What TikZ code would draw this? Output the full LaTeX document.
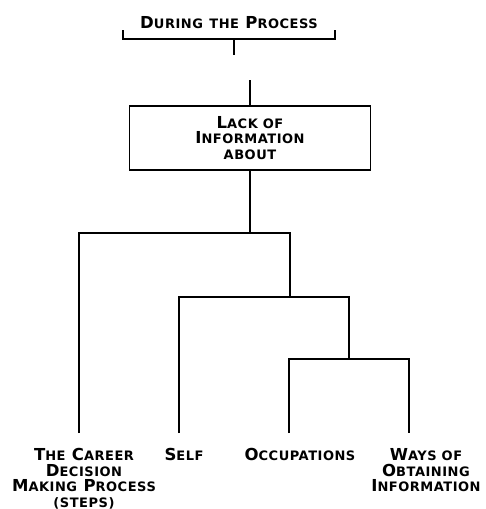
\documentclass[tikz,border=0pt]{standalone}
\usepackage{fontspec}
\setmainfont{DejaVu Sans}[LetterSpace=4]
\newcommand{\smallCaps}[1]{{\fontsize{13}{15.5}\selectfont #1}}
\newcommand{\bigCaps}{\fontsize{16.5}{15.5}\selectfont\bfseries}

\begin{document}
\begin{tikzpicture}[x=1pt, y=-1pt, line width=1.1pt,
   label/.style={inner sep=0pt, align=center, font=\bigCaps},
   infobox/.style={draw, rectangle, inner sep=0pt, minimum width=241pt,
      minimum height=64pt, align=center, font=\bigCaps}]
   \useasboundingbox (0,0) rectangle (485,509);

   % title with its bracket
   \node (title) [label] at (229,23) {D\smallCaps{URING} \smallCaps{THE} P\smallCaps{ROCESS}};
   \coordinate (brLeft) at (123,30);
   \coordinate (brRight) at (335,30);
   \coordinate (brStem) at (234,55);
   \draw (brLeft) |- (brRight|-0,39) -- (brRight);
   \draw (brStem|-0,39) -- (brStem);

   % the box
   \node (lack) [infobox] at (250,138) {L\smallCaps{ACK OF}\\ I\smallCaps{NFORMATION}\\ \smallCaps{ABOUT}};
   \coordinate (lackIn) at (250,80);
   \draw (lackIn) -- (lack.north);

   % junctions
   \coordinate (jOne) at (250,233);
   \coordinate (jTwo) at (290,297);
   \coordinate (jThree) at (349,359);

   % leaves
   \node (career) [label, anchor=north] at (84,448) {T\smallCaps{HE} C\smallCaps{AREER}\\ D\smallCaps{ECISION}\\ M\smallCaps{AKING} P\smallCaps{ROCESS}\\ \smallCaps{(STEPS)}};
   \node (self) [label, anchor=north] at (184,448) {S\smallCaps{ELF}};
   \node (occup) [label, anchor=north] at (300,448) {O\smallCaps{CCUPATIONS}};
   \node (ways) [label, anchor=north] at (426,448) {W\smallCaps{AYS OF}\\ O\smallCaps{BTAINING}\\ I\smallCaps{NFORMATION}};

   \coordinate (leafA) at (79,433);
   \coordinate (leafB) at (179,433);
   \coordinate (leafC) at (289,433);
   \coordinate (leafD) at (409,433);

   \draw (lack.south) -- (jOne);
   \draw (leafA) |- (jTwo|-jOne) -- (jTwo);
   \draw (leafB) |- (jThree|-jTwo) -- (jThree);
   \draw (leafC) |- (leafD|-jThree) -- (leafD);
\end{tikzpicture}
\end{document}
